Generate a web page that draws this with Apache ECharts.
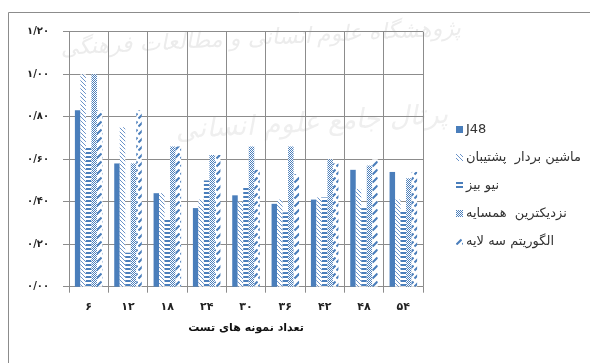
<!DOCTYPE html>
<html>
<head>
<meta charset="utf-8">
<script src="https://cdn.jsdelivr.net/npm/echarts@6/dist/echarts.min.js"></script>
<style>
  html, body { margin: 0; padding: 0; background: #ffffff; }
  #chart { width: 590px; height: 363px; }
</style>
</head>
<body>
<div id="chart"></div>
<script>
// Number of test samples (x axis)
var categories = ['۶', '۱۲', '۱۸', '۲۴', '۳۰', '۳۶', '۴۲', '۴۸', '۵۴'];
// Y axis tick labels (0.00 .. 1.20, Persian digits)
var yTickLabels = ['۰/۰۰', '۰/۲۰', '۰/۴۰', '۰/۶۰', '۰/۸۰', '۱/۰۰', '۱/۲۰'];

var seriesNames = ['J48', 'ماشین بردار  پشتیبان', 'نیو بیز', 'نزدیکترین  همسایه', 'الگوریتم سه لایه'];

var j48Values = [0.83, 0.58, 0.44, 0.37, 0.43, 0.39, 0.41, 0.55, 0.54];
var svmValues = [1.00, 0.75, 0.44, 0.41, 0.40, 0.41, 0.42, 0.46, 0.41];
var nbValues  = [0.66, 0.16, 0.32, 0.50, 0.47, 0.35, 0.42, 0.37, 0.36];
var knnValues = [1.00, 0.58, 0.66, 0.62, 0.66, 0.66, 0.60, 0.57, 0.51];
var mlpValues = [0.83, 0.83, 0.66, 0.62, 0.55, 0.53, 0.58, 0.60, 0.54];

var BLUE = '#4a7ebb';

// Small canvas tiles used as fill patterns
function makeTile(w, h, draw) {
  var c = document.createElement('canvas');
  c.width = w; c.height = h;
  var ctx = c.getContext('2d');
  ctx.fillStyle = '#ffffff';
  ctx.fillRect(0, 0, w, h);
  draw(ctx);
  return { image: c, repeat: 'repeat' };
}

// light downward diagonal
var patSvm = makeTile(4, 4, function (ctx) {
  ctx.fillStyle = '#6b93c9';
  for (var i = 0; i < 4; i++) ctx.fillRect(i, i, 1, 1);
});
// wide horizontal stripes
var patNb = makeTile(4, 4, function (ctx) {
  ctx.fillStyle = BLUE;
  ctx.fillRect(0, 0, 4, 2);
});
// fine checker / dotted
var patKnn = makeTile(2, 2, function (ctx) {
  ctx.fillStyle = BLUE;
  ctx.fillRect(0, 0, 1, 1);
  ctx.fillRect(1, 1, 1, 1);
});
// wide upward diagonal dashes
var patMlp = makeTile(6, 8, function (ctx) {
  ctx.strokeStyle = BLUE;
  ctx.lineWidth = 2;
  ctx.beginPath();
  ctx.moveTo(0.5, 6.5);
  ctx.lineTo(5.5, 1.5);
  ctx.stroke();
});

function barSeries(name, data, fill) {
  return {
    name: name,
    type: 'bar',
    data: data,
    barGap: '0%',
    barCategoryGap: '30%',
    itemStyle: { color: fill },
    emphasis: { disabled: true },
    z: 3
  };
}

var chart = echarts.init(document.getElementById('chart'), null, { renderer: 'canvas' });

chart.setOption({
  animation: false,
  backgroundColor: '#ffffff',
  textStyle: { fontFamily: 'DejaVu Sans, Noto Sans, sans-serif' },
  graphic: [
    {
      type: 'text', z: -10, left: 60, top: 18, rotation: 0.05,
      style: { text: 'پژوهشگاه علوم انسانی و مطالعات فرهنگی', fill: '#ececec',
               font: 'italic 22px DejaVu Serif, serif' }
    },
    {
      type: 'text', z: -10, left: 175, top: 102, rotation: 0.06,
      style: { text: 'پرتال جامع علوم انسانی', fill: '#efefef',
               font: 'italic 27px DejaVu Serif, serif' }
    },
    {
      type: 'polyline', z: 1, silent: true,
      shape: { points: [[590, 12.5], [8.5, 12.5], [8.5, 363]] },
      style: { stroke: '#8c8c8c', lineWidth: 1, fill: null }
    }
  ],
  grid: { left: 69, right: 167, top: 31.7, bottom: 76.3, containLabel: false },
  legend: {
    orient: 'vertical',
    left: 451,
    top: 118,
    itemWidth: 7,
    itemHeight: 7,
    itemGap: 15,
    icon: 'rect',
    selectedMode: false,
    textStyle: { color: '#333333', fontSize: 13, padding: [0, 0, 0, -2] },
    data: seriesNames
  },
  xAxis: {
    type: 'category',
    data: categories,
    name: 'تعداد نمونه های تست',
    nameLocation: 'middle',
    nameGap: 36,
    nameTextStyle: { color: '#111', fontSize: 11, fontWeight: 'bold' },
    axisLine: { lineStyle: { color: '#8c8c8c' } },
    axisTick: { show: true, length: 6, lineStyle: { color: '#8c8c8c' } },
    axisLabel: { color: '#222', fontSize: 11, fontWeight: 'bold', margin: 15 },
    splitLine: { show: true, lineStyle: { color: '#8c8c8c', width: 1 } }
  },
  yAxis: {
    type: 'value',
    min: 0,
    max: 1.2,
    interval: 0.2,
    axisLine: { show: false },
    axisTick: { show: true, length: 6, lineStyle: { color: '#8c8c8c' } },
    axisLabel: {
      color: '#222', fontSize: 10, fontWeight: 'bold', margin: 20,
      formatter: function (v) { return yTickLabels[Math.round(v / 0.2)]; }
    },
    splitLine: { show: true, lineStyle: { color: '#8c8c8c', width: 1 } }
  },
  series: [
    barSeries(seriesNames[0], j48Values, BLUE),
    barSeries(seriesNames[1], svmValues, patSvm),
    barSeries(seriesNames[2], nbValues, patNb),
    barSeries(seriesNames[3], knnValues, patKnn),
    barSeries(seriesNames[4], mlpValues, patMlp)
  ]
});
</script>
</body>
</html>
